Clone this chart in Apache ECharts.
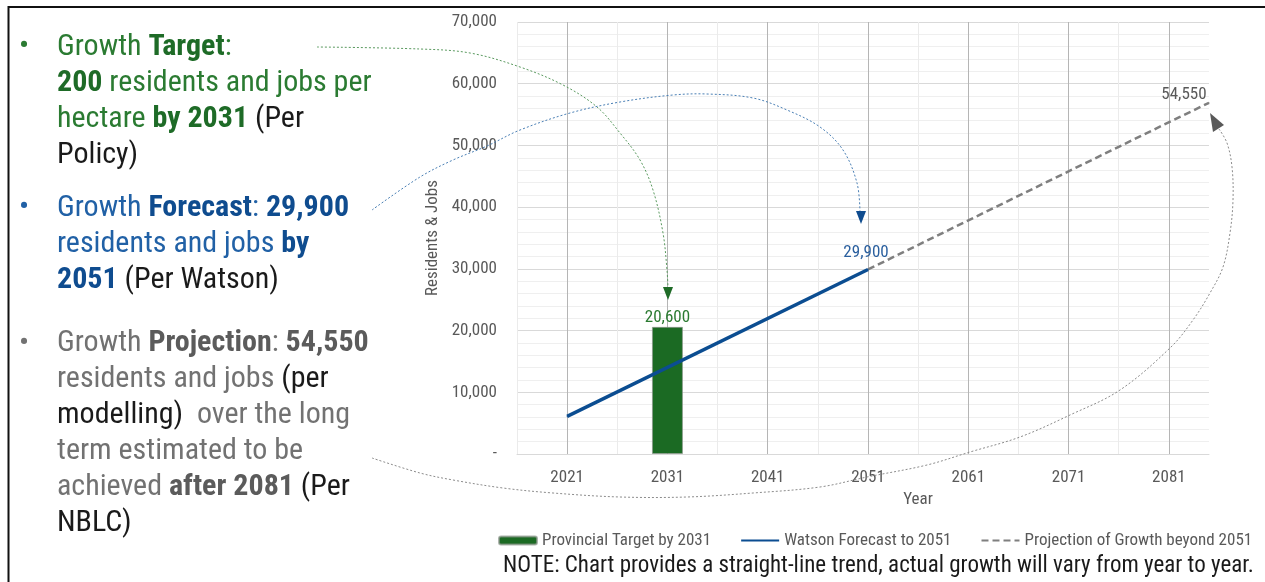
<!DOCTYPE html>
<html>
<head>
<meta charset="utf-8">
<script src="https://cdn.jsdelivr.net/npm/echarts@6/dist/echarts.min.js"></script>
<style>
html,body{margin:0;padding:0;background:#fff;}
#chart{width:1265px;height:582px;}
</style>
</head>
<body>
<div id="chart"></div>
<script>
// ---------- data ----------
const yearLabels = [2021, 2031, 2041, 2051, 2061, 2071, 2081];
const targetYears = [2031];
const targetValues = [20600];
const forecastYears = [2021, 2051];
const forecastValues = [6100, 29900];
const projectionYears = [2051, 2082, 2085];
const projectionValues = [29900, 54550, 56900];
const projectionLabelYear = 2082;
const seriesNames = ['Provincial Target by 2031', 'Watson Forecast to 2051', 'Projection of Growth beyond 2051'];
const noteText = 'NOTE: Chart provides a straight-line trend, actual growth will vary from year to year.';

const FONT = "'Roboto Condensed', Roboto, sans-serif";
const fmt = v => Number(v).toLocaleString('en-US');

const chart = echarts.init(document.getElementById('chart'), null, {renderer: 'canvas'});

const rich = (color, bold) => ({fill: color, fontSize: 30, fontFamily: FONT, fontWeight: bold ? 'bold' : 'normal', lineHeight: 36});
const richStyles = {
  g: rich('#2b7b32', false), gb: rich('#1e6b27', true),
  b: rich('#2161a6', false), bb: rich('#0f4c8f', true),
  s: rich('#727272', false), sb: rich('#5b5b5b', true),
  k: rich('#1a1a1a', false)
};

const block1 = '{g|Growth }{gb|Target}{g|:}\n{gb|200}{g| residents and jobs per}\n{g|hectare }{gb|by 2031}{k| (Per}\n{k|Policy)}';
const block2 = '{b|Growth }{bb|Forecast}{b|: }{bb|29,900}\n{b|residents and jobs }{bb|by}\n{bb|2051}{k| (Per Watson)}';
const block3 = '{s|Growth }{sb|Projection}{s|: }{sb|54,550}\n{s|residents and jobs }{k|(per}\n{k|modelling)}{s|  over the long}\n{s|term estimated to be}\n{s|achieved }{sb|after 2081}{k| (Per}\n{k|NBLC)}';

function textBlock(txt, top) {
  return {type: 'text', x: 57, y: top, z: 50,
    style: {text: txt, rich: richStyles, align: 'left', verticalAlign: 'top', fontFamily: FONT, fontSize: 30}};
}
function bullet(color, cy) {
  return {type: 'text', x: 24, y: cy, z: 50,
    style: {text: '•', fill: color, fontSize: 30, fontFamily: FONT, align: 'center', verticalAlign: 'middle'}};
}
function curve(points, color) {
  return {type: 'polyline', z: 100, silent: true,
    shape: {points: points, smooth: 0.35},
    style: {stroke: color, lineWidth: 1, lineDash: [2, 2], fill: null}};
}
function head(points, color) {
  return {type: 'polygon', z: 100, silent: true, shape: {points: points}, style: {fill: color}};
}

const graphics = [
  // frame
  {type: 'line', z: 60, shape: {x1: 8, y1: 7, x2: 1265, y2: 7}, style: {stroke: '#111', lineWidth: 2}},
  {type: 'line', z: 60, shape: {x1: 8.5, y1: 6, x2: 8.5, y2: 582}, style: {stroke: '#111', lineWidth: 2}},
  // left text
  bullet('#2b7b32', 47), textBlock(block1, 29),
  bullet('#2161a6', 208), textBlock(block2, 190),
  bullet('#727272', 344), textBlock(block3, 325),
  // note
  {type: 'text', x: 503, y: 566, z: 50,
    style: {text: noteText, fill: '#1a1a1a', fontSize: 23, fontFamily: FONT, align: 'left', verticalAlign: 'middle'}},
  // annotation arrows
  curve([[317,47],[420,49],[470,53],[520,67],[563,85],[597,107],[620,133],[640,160],[653,190],[663,233],[667,270],[668,288]], '#5a9a5f'),
  head([[663,287],[673,287],[668,300]], '#1f6b27'),
  curve([[372,210],[420,177],[453,160],[487,146],[520,130],[570,113],[620,102],[673,95],[707,94],[753,98],[787,110],[820,127],[843,150],[857,183],[860,212]], '#4a7fb5'),
  head([[856,211],[866,211],[861,224]], '#0f4c8f'),
  curve([[372,458],[420,473],[453,480],[503,488],[553,493],[620,497],[687,497],[753,493],[820,487],[867,477],[927,465],[970,452],[1020,437],[1070,415],[1120,390],[1171,347],[1193,320],[1210,293],[1223,267],[1230,233],[1233,200],[1232,167],[1227,143],[1219,129]], '#8c8c8c'),
  head([[1210,113],[1213,132],[1224,125]], '#595959')
];

const option = {
  animation: false,
  backgroundColor: '#fff',
  grid: {left: 517, top: 22, width: 692, height: 432, outerBoundsMode: 'none', containLabel: false},
  legend: {
    left: 498, top: 532, width: 820, padding: 0, itemWidth: 38, itemHeight: 8, itemGap: 29,
    textStyle: {color: '#595959', fontSize: 17, fontFamily: FONT},
    data: [
      {name: seriesNames[0]},
      {name: seriesNames[1], itemStyle: {opacity: 0}},
      {name: seriesNames[2], itemStyle: {opacity: 0}}
    ]
  },
  xAxis: {
    type: 'value', min: 2016, max: 2085, interval: 5,
    axisLine: {show: true, lineStyle: {color: '#d9d9d9', width: 1}},
    axisTick: {show: false},
    axisLabel: {formatter: v => yearLabels.includes(v) ? String(v) : '', color: '#595959', fontSize: 17, fontFamily: FONT, margin: 15},
    splitLine: {show: true, showMaxLine: false, lineStyle: {color: ['#ebebeb', '#b5b5b5'], width: 1}},
    name: 'Year', nameLocation: 'middle', nameGap: 36,
    nameTextStyle: {color: '#595959', fontSize: 17, fontFamily: FONT, padding: [0, 0, 0, 110]}
  },
  yAxis: {
    type: 'value', min: 0, max: 70000, interval: 10000,
    axisLine: {show: false}, axisTick: {show: false},
    axisLabel: {formatter: v => v === 0 ? '-' : fmt(v), color: '#595959', fontSize: 17, fontFamily: FONT, margin: 20},
    splitLine: {show: true, lineStyle: {color: '#d9d9d9', width: 1}},
    minorTick: {show: false, splitNumber: 5},
    minorSplitLine: {show: true, lineStyle: {color: '#efefef', width: 1}},
    name: 'Residents & Jobs', nameLocation: 'middle', nameGap: 70,
    nameTextStyle: {color: '#595959', fontSize: 17, fontFamily: FONT}
  },
  series: [
    {
      name: seriesNames[0], type: 'bar', barWidth: 31,
      data: targetYears.map((y, i) => [y, targetValues[i]]),
      itemStyle: {color: '#1b6a23', borderColor: 'rgba(140,150,140,0.7)', borderWidth: 1},
      label: {show: true, position: 'top', distance: 1, color: '#2b7a31', fontSize: 17, fontFamily: FONT, formatter: p => fmt(p.value[1])},
      z: 3
    },
    {
      name: seriesNames[1], type: 'line',
      data: forecastYears.map((y, i) => ({value: [y, forecastValues[i]],
        label: {show: y === forecastYears[forecastYears.length - 1]}})),
      symbol: 'circle', symbolSize: 1, showSymbol: true,
      lineStyle: {color: '#0b4d91', width: 3.5}, itemStyle: {color: '#0b4d91'},
      label: {position: 'top', distance: 5, offset: [-2, -3], color: '#2a5f9e', fontSize: 17, fontFamily: FONT, formatter: p => fmt(p.value[1])},
      z: 4
    },
    {
      name: seriesNames[2], type: 'line',
      data: projectionYears.map((y, i) => ({value: [y, projectionValues[i]],
        label: {show: y === projectionLabelYear}})),
      symbol: 'circle', symbolSize: 1, showSymbol: true,
      lineStyle: {color: '#7f7f7f', width: 2.5, type: [7, 4]}, itemStyle: {color: '#7f7f7f'},
      label: {position: 'top', distance: 5, offset: [5, -9], color: '#595959', fontSize: 17, fontFamily: FONT, formatter: p => fmt(p.value[1])},
      z: 3
    }
  ],
  graphic: graphics
};
chart.setOption(option);
</script>
</body>
</html>
